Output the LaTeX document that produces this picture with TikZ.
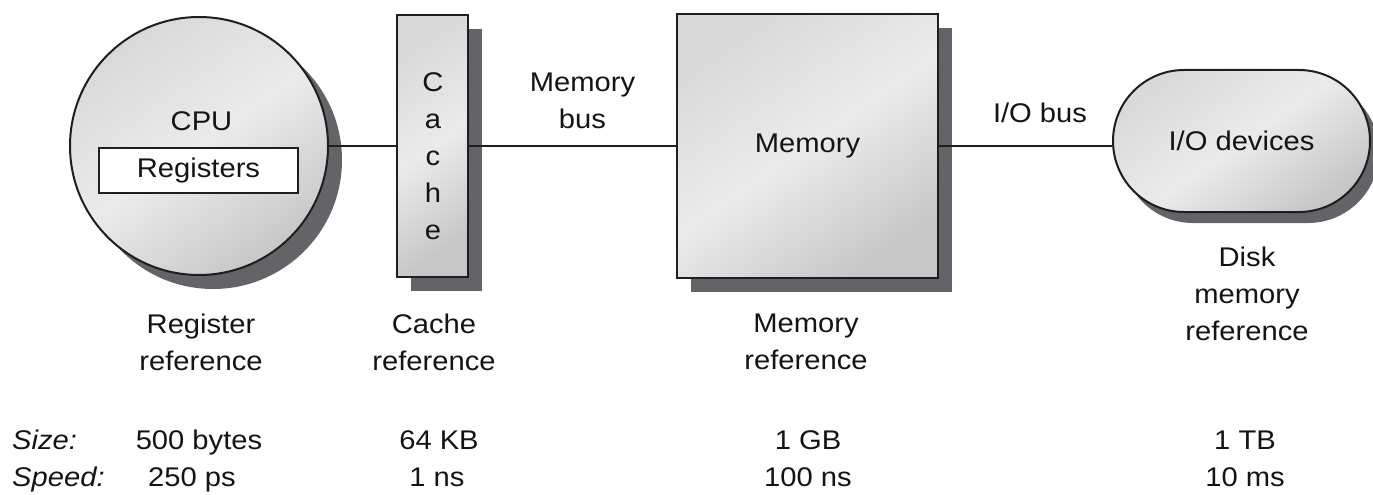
\documentclass[tikz,border=0pt]{standalone}
\usepackage{fontspec}
\setmainfont{Liberation Sans}[FakeStretch=1.08]
\usetikzlibrary{shadows}
\definecolor{shadowgray}{RGB}{100,100,104}
\definecolor{edgegray}{RGB}{30,30,30}
\begin{document}
\begin{tikzpicture}[x=1pt,y=-1pt,
  every node/.style={inner sep=0pt, font=\fontsize{27}{37}\selectfont, text=black!92},
  metal/.style={draw=edgegray, line width=2pt, shading=axis,
    top color=gray!30, bottom color=gray!44, middle color=gray!16, shading angle=35},
  boxshadow/.style={drop shadow={shadow xshift=14pt, shadow yshift=-14pt, fill=shadowgray, opacity=1}},
  ioshadow/.style={drop shadow={shadow xshift=9pt, shadow yshift=-11pt, fill=shadowgray, opacity=1}},
  bus/.style={draw=edgegray, line width=2pt},
  lbl/.style={anchor=north, align=center},
  val/.style={anchor=base},
  hdr/.style={anchor=base west, font=\fontsize{27}{37}\selectfont\itshape}
]
\useasboundingbox (0,0) rectangle (1373,495);
% CPU
\node[circle, metal, minimum size=258pt, boxshadow] (cpu) at (199,146) {};
\node[anchor=base] (cputxt) at (201.5,130) {CPU};
\node[draw=edgegray, fill=white, line width=1.6pt, minimum width=199pt, minimum height=45pt, anchor=center] (reg) at (198.5,170.5) {Registers};
% Cache
\node[rectangle, metal, minimum width=71pt, minimum height=262pt, boxshadow] (cache) at (432.5,146) {};
\node[lbl] (cachetxt) at (433,72.5) {C\\a\\c\\h\\e};
% Memory
\node[rectangle, metal, minimum width=261pt, minimum height=264pt, boxshadow] (mem) at (807.5,146) {Memory};
% I/O devices
\node[rectangle, rounded corners=71pt, metal, minimum width=257pt, minimum height=142pt, ioshadow] (io) at (1241.5,141) {I/O devices};
% buses
\draw[bus] (cpu.east) -- (cache.west);
\draw[bus] (cache.east) -- (mem.west);
\draw[bus] (mem.east) -- (io.west |- mem.east);
\node[lbl] (membus) at (582.5,72.5) {Memory\\bus};
\node[val] (iobus) at (1040,122) {I/O bus};
% reference labels
\node[lbl] (regref) at (201,313.5) {Register\\reference};
\node[lbl] (cacheref) at (434,313.5) {Cache\\reference};
\node[lbl] (memref) at (806,313.5) {Memory\\reference};
\node[lbl] (diskref) at (1247,247) {Disk\\memory\\reference};
% size / speed
\node[hdr] (size) at (12,449) {Size:};
\node[hdr] (speed) at (12,486) {Speed:};
\node[val] (s1) at (199,449) {500 bytes};
\node[val] (p1) at (192,486) {250 ps};
\node[val] (s2) at (439,449) {64 KB};
\node[val] (p2) at (437,486) {1 ns};
\node[val] (s3) at (808,449) {1 GB};
\node[val] (p3) at (808,486) {100 ns};
\node[val] (s4) at (1245,449) {1 TB};
\node[val] (p4) at (1245,486) {10 ms};
\end{tikzpicture}
\end{document}
